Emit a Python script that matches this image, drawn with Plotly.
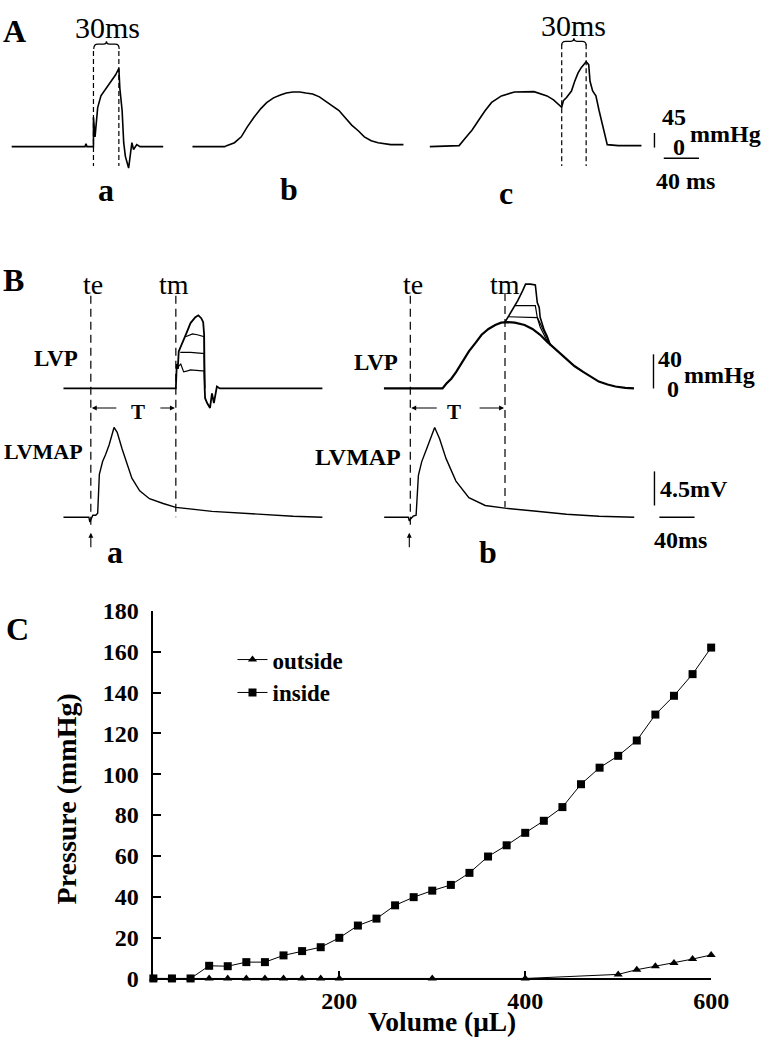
import plotly.graph_objects as go

W, H = 778, 1049
SERIF = "Liberation Serif, Times New Roman, DejaVu Serif, serif"

# ---------------- Panel A: pressure traces (time in ms, pressure in mmHg) ----------------
a_t = [13.3, 96.7, 97.8, 98.9, 106.3, 106.3, 108.1, 110.0, 111.1, 114.8, 118.5, 125.9, 131.5, 135.2,
       136.3, 138.9, 140.7, 142.6, 146.3, 150.0, 151.9, 155.6, 159.2, 185.6]
a_p = [0, 0, 9, 0, 0, 90, 30, 81, 120, 156, 171, 199, 221, 241,
       180, 111, 12, -30, -66, 12, -9, 6, 0, 0]

b_t = [218.9, 255.6, 257.8, 266.7, 274.4, 281.1, 288.9, 296.7, 303.3, 311.1, 318.9, 325.6, 333.3, 341.1,
       347.8, 355.6, 363.3, 370.0, 377.8, 385.6, 392.2, 400.0, 407.8, 414.4, 422.2, 430.0, 444.4, 458.9]
b_p = [0, 0, 3, 12, 30, 60, 90, 117, 135, 150, 159, 165, 168, 168,
       165, 162, 153, 141, 126, 111, 90, 66, 48, 30, 18, 12, 6, 6]

c_t = [488.9, 522.2, 529.6, 537.0, 544.4, 551.9, 559.2, 570.3, 585.2, 607.4, 622.2, 629.6, 638.9,
       640.8, 644.4, 650.0, 653.7, 657.4, 661.1, 666.7, 669.6, 671.1, 674.1, 677.8, 681.4, 687.0,
       690.7, 703.3, 729.6]
c_p = [0, 3, 27, 51, 81, 111, 136, 156, 168, 169, 156, 144, 121,
       141, 151, 171, 201, 226, 243, 261, 252, 201, 171, 156, 111, 42,
       6, 3, 3]

a_marks_t = [106.3, 135.2]   # dashed markers, trace a (30 ms apart)
c_marks_t = [638.9, 666.7]   # dashed markers, trace c
scaleA_mmHg = 45
scaleA_ms = 40

# ---------------- Panel B: LVP (mmHg) and LVMAP (mV) ----------------
lvpa_t = [72.2, 200.0, 201.1, 202.2, 203.3, 207.8, 212.2, 216.7, 222.2, 225.6, 228.9, 231.1, 232.2,
          232.8, 233.3, 235.6, 238.9, 241.1, 243.3, 246.7, 250.0, 366.7]
lvpa_p = [0, 0, 28.6, 22.9, 43.4, 53.7, 65.1, 76.6, 83.4, 85.7, 82.3, 77.7, 62.9,
          0, -11.4, -17.1, -22.9, -5.7, -17.1, 2.3, 0, 0]
lvpa1_t = [202.2, 203.3, 205.6, 208.9, 213.3, 216.7, 230.0, 232.2, 232.8]
lvpa1_p = [22.9, 26.3, 28.6, 19.4, 20.6, 21.7, 20.6, 20.6, 0]
lvpa2_t = [205.0, 211.1, 216.7, 230.0, 232.2, 232.8]
lvpa2_p = [42.3, 42.3, 42.3, 41.1, 41.1, 0]
lvpa3_t = [211.1, 218.9, 224.4, 230.0, 232.2, 232.8]
lvpa3_p = [60.6, 64.0, 62.9, 60.6, 60.6, 0]

lvpb_t = [436.7, 503.3, 507.8, 513.3, 518.9, 525.6, 533.3, 541.1, 547.8, 555.6, 563.3, 570.0, 577.8,
          585.6, 596.7, 605.6, 614.4, 622.2, 630.0, 636.7, 644.4, 653.3, 663.3, 672.2, 681.1, 691.1,
          700.0, 711.1, 721.1]
lvpb_p = [0, 0, 5.7, 11.4, 19.4, 30.9, 43.4, 53.7, 62.9, 69.7, 74.3, 77.1, 77.7,
          77.1, 74.3, 69.7, 62.9, 54.9, 48.0, 41.1, 34.3, 26.3, 19.4, 13.7, 8.0, 4.6,
          2.3, 0.6, 0]
lvpb1_t = [574.4, 577.8, 583.3, 588.9, 594.4, 597.8, 603.3, 608.9, 611.1, 613.3, 614.4, 616.7, 618.9,
           622.2, 626.0]
lvpb1_p = [77.7, 83.4, 93.7, 102.9, 114.3, 122.3, 122.3, 121.2, 100.6, 94.9, 83.4, 76.6, 68.6,
           61.7, 51.0]
lvpb2_t = [585.6, 608.9, 611.1, 614.4, 617.8, 622.2, 626.0]
lvpb2_p = [97.1, 97.1, 83.4, 76.6, 68.6, 59.4, 51.0]
lvpb3_t = [578.0, 611.1, 614.4, 618.9, 622.2, 626.0]
lvpb3_p = [84.0, 83.0, 72.0, 62.9, 56.0, 51.0]

mapa_t = [72.2, 101.1, 102.2, 103.3, 105.6, 108.9, 111.1, 113.0, 116.7, 120.0, 124.1, 129.7, 133.3,
          138.9, 144.4, 150.0, 158.9, 170.0, 185.6, 200.0, 241.1, 288.9, 333.3, 366.7]
mapa_v = [0, 0, -0.64, -0.39, 0.26, 0.26, 0.51, 5.66, 7.33, 8.23, 9.51, 11.83, 11.19,
          9.0, 6.94, 5.14, 3.47, 2.44, 1.80, 1.29, 0.77, 0.39, 0.13, 0]
mapb_t = [437.0, 464.4, 465.6, 466.7, 470.0, 473.3, 475.9, 479.7, 485.2, 494.4, 500.0, 507.4, 518.6,
          533.3, 551.9, 574.1, 607.4, 644.4, 681.4, 721.4]
mapb_v = [0, 0, -0.51, -0.26, 0.13, 0.26, 5.53, 7.33, 9.0, 11.83, 10.33, 7.72, 4.76,
          2.57, 1.54, 1.19, 0.81, 0.39, 0.13, 0]

te_t = [103.3, 466.7]
tm_t = [200.0, 574.4]
scaleB_mmHg = 40
scaleB_mV = 4.5
scaleB_ms = 40

# ---------------- Panel C: pressure-volume ----------------
vol_inside = [0, 20, 40, 60, 80, 100, 120, 140, 160, 180, 200, 220, 240, 260, 280, 300, 320, 340,
              360, 380, 400, 420, 440, 460, 480, 500, 520, 540, 560, 580, 600]
p_inside = [0, 0, 0, 6.2, 6.0, 8.0, 8.0, 11.3, 13.4, 15.3, 19.9, 25.9, 29.3, 35.8, 39.8, 43.0, 45.8, 51.7,
            59.7, 65.2, 71.3, 77.2, 83.9, 95.1, 103.2, 109.0, 116.5, 129.2, 138.4, 149.0, 162.0]
vol_outside = [0, 20, 40, 60, 80, 100, 120, 140, 160, 180, 200, 300, 400, 500, 520, 540, 560, 580, 600]
p_outside = [0, 0, 0, 0, 0, 0, 0, 0, 0, 0, 0, 0, 0, 2.0, 4.3, 6.0, 7.6, 9.5, 11.5]
x_ticks = [200, 400, 600]


def px(x):
    return x / W


def py(y):
    return 1 - y / H


fig = go.Figure()

black = "black"


def line(t, v, xa, ya, width=1.6, dash=None):
    fig.add_trace(go.Scatter(x=t, y=v, xaxis=xa, yaxis=ya, mode="lines",
                             line=dict(color=black, width=width, dash=dash),
                             showlegend=False, hoverinfo="skip"))


# Panel A traces
for t, p in [(a_t, a_p), (b_t, b_p), (c_t, c_p)]:
    line(t, p, "x2", "y2", 1.6)
# Panel A scale bars
line([744.4, 744.4], [-3, -3 + scaleA_mmHg], "x2", "y2", 1.4)
line([755, 755 + scaleA_ms], [-36, -36], "x2", "y2", 1.4)

# Panel B LVP
line(lvpa_t, lvpa_p, "x3", "y3", 1.8)
for t, p in [(lvpa1_t, lvpa1_p), (lvpa2_t, lvpa2_p), (lvpa3_t, lvpa3_p)]:
    line(t, p, "x3", "y3", 1.2)
line(lvpb_t, lvpb_p, "x3", "y3", 2.2)
line(lvpb1_t, lvpb1_p, "x3", "y3", 1.6)
for t, p in [(lvpb2_t, lvpb2_p), (lvpb3_t, lvpb3_p)]:
    line(t, p, "x3", "y3", 1.2)
line([743.3, 743.3], [0, scaleB_mmHg], "x3", "y3", 1.4)
# Panel B LVMAP
line(mapa_t, mapa_v, "x3", "y4", 1.4)
line(mapb_t, mapb_v, "x3", "y4", 1.4)
line([744.4, 744.4], [1.54, 1.54 + scaleB_mV], "x3", "y4", 1.4)
line([750, 750 + scaleB_ms], [0, 0], "x3", "y4", 1.4)

# Panel C
fig.add_trace(go.Scatter(x=vol_outside, y=p_outside, mode="lines+markers", name="outside",
                         line=dict(color=black, width=1),
                         marker=dict(symbol="triangle-up", size=8, color=black),
                         cliponaxis=False))
fig.add_trace(go.Scatter(x=vol_inside, y=p_inside, mode="lines+markers", name="inside",
                         line=dict(color=black, width=1),
                         marker=dict(symbol="square", size=8, color=black),
                         cliponaxis=False))

shapes = []
for t in a_marks_t:
    shapes.append(dict(type="line", xref="x2", yref="paper", x0=t, x1=t, y0=py(39), y1=py(157),
                       line=dict(color=black, width=1.2, dash="5px,3px")))
for t in c_marks_t:
    shapes.append(dict(type="line", xref="x2", yref="paper", x0=t, x1=t, y0=py(32), y1=py(157),
                       line=dict(color=black, width=1.2, dash="5px,3px")))
for t, (y0, y1) in zip(te_t, [(290, 530), (290, 530)]):
    shapes.append(dict(type="line", xref="x3", yref="paper", x0=t, x1=t, y0=py(y0), y1=py(y1),
                       line=dict(color=black, width=1.2, dash="8px,5px")))
for t, (y0, y1) in zip(tm_t, [(290, 517), (287, 507)]):
    shapes.append(dict(type="line", xref="x3", yref="paper", x0=t, x1=t, y0=py(y0), y1=py(y1),
                       line=dict(color=black, width=1.2, dash="8px,5px")))


def brace(x0, x1, ytop, ybot):
    xm = (x0 + x1) / 2
    pts = (f"M {px(x0)},{py(ybot)} Q {px(x0)},{py(ytop + 2)} {px(x0 + 4)},{py(ytop + 2)} "
           f"L {px(xm - 3)},{py(ytop + 2)} Q {px(xm)},{py(ytop + 2)} {px(xm)},{py(ytop - 1)} "
           f"Q {px(xm)},{py(ytop + 2)} {px(xm + 3)},{py(ytop + 2)} "
           f"L {px(x1 - 4)},{py(ytop + 2)} Q {px(x1)},{py(ytop + 2)} {px(x1)},{py(ybot)}")
    return dict(type="path", xref="paper", yref="paper", path=pts, line=dict(color=black, width=1.2))


shapes.append(brace(96, 122, 30, 37))
shapes.append(brace(575, 600, 27, 33))

annotations = []


def txt(x, y, s, size, bold=False, xanchor="center", angle=0):
    annotations.append(dict(x=px(x), y=py(y), xref="paper", yref="paper", text=s, showarrow=False,
                            xanchor=xanchor, yanchor="middle", textangle=angle,
                            font=dict(family=SERIF, size=size, color=black,
                                      weight="bold" if bold else "normal")))


def arrow(xh, yh, xt, yt):
    annotations.append(dict(x=px(xh), y=py(yh), xref="paper", yref="paper",
                            ax=xt - xh, ay=yt - yh, axref="pixel", ayref="pixel", text="",
                            showarrow=True, arrowhead=2, arrowsize=0.9, arrowwidth=1.1,
                            arrowcolor=black))


# Panel A texts
txt(15, 18, "A", 32, True)
txt(110, 15, "30ms", 30)
txt(587, 13, "30ms", 30)
txt(108, 182, "a", 32, True)
txt(296, 180, "b", 32, True)
txt(518, 185, "c", 32, True)
txt(690, 107, "45", 24, True)
txt(695, 137, "0", 24, True)
txt(743, 124, "mmHg", 24, True)
txt(702, 172, "40 ms", 24, True)

# Panel B texts
txt(14, 274, "B", 32, True)
txt(95, 278, "te", 28)
txt(178, 278, "tm", 28)
txt(423, 278, "te", 28)
txt(517, 278, "tm", 28)
txt(82, 354, "LVP", 23, True, "right")
txt(2, 450, "LVMAP", 22, True, "left")
txt(409, 358, "LVP", 23, True, "right")
txt(413, 455, "LVMAP", 24, True, "right")
txt(141, 409, "T", 21, True)
txt(465, 409, "T", 21, True)
arrow(94, 405, 120, 405)
arrow(179, 405, 163, 405)
arrow(421, 405, 448, 405)
arrow(516, 405, 490, 405)
arrow(93, 533, 93, 549)
arrow(419, 533, 419, 549)
txt(118, 553, "a", 32, True)
txt(500, 553, "b", 32, True)
txt(686, 355, "40", 24, True)
txt(689, 386, "0", 24, True)
txt(737, 371, "mmHg", 24, True)
txt(710, 488, "4.5mV", 24, True)
txt(697, 540, "40ms", 24, True)

# Panel C texts
txt(18, 632, "C", 32, True)
txt(68, 806, "Pressure (mmHg)", 28, True, angle=-90)
txt(452, 1034, "Volume (μL)", 27.5, True)

fig.update_layout(
    width=W, height=H, margin=dict(l=0, r=0, t=0, b=0),
    paper_bgcolor="white", plot_bgcolor="rgba(0,0,0,0)",
    shapes=shapes, annotations=annotations,
    showlegend=True,
    legend=dict(x=px(238), y=py(641), xanchor="left", yanchor="top", bgcolor="rgba(0,0,0,0)",
                font=dict(family=SERIF, size=23, color=black, weight="bold"),
                itemwidth=30, tracegroupgap=0),
    xaxis=dict(domain=[px(157), px(728)], range=[0, 600], anchor="y",
               showline=True, linecolor=black, linewidth=1.5, ticks="inside", ticklen=8,
               tickwidth=1.5, tickcolor=black, tickvals=x_ticks, showgrid=False, zeroline=False,
               tickfont=dict(family=SERIF, size=24, color=black, weight="bold")),
    yaxis=dict(domain=[py(990), py(613)], range=[0, 180], anchor="x",
               showline=True, linecolor=black, linewidth=1.5, ticks="inside", ticklen=8,
               tickwidth=1.5, tickcolor=black, dtick=20, showgrid=False, zeroline=False,
               ticklabelstandoff=8,
               tickfont=dict(family=SERIF, size=24, color=black, weight="bold")),
    xaxis2=dict(domain=[0, 1], range=[0, W / 0.9], anchor="y2", visible=False),
    yaxis2=dict(domain=[py(200), 1], range=[-189, 411], anchor="x2", visible=False),
    xaxis3=dict(domain=[0, 1], range=[0, W / 0.9], anchor="y3", visible=False),
    yaxis3=dict(domain=[py(560), py(240)], range=[-200, 165.7], anchor="x3", visible=False),
    yaxis4=dict(domain=[py(560), py(240)], range=[-5.53, 35.62], anchor="x3", overlaying="y3",
                visible=False),
)

fig.write_html("out.html", config={"displayModeBar": False},
               post_script="document.body.style.margin='0';document.body.style.overflow='hidden';")
